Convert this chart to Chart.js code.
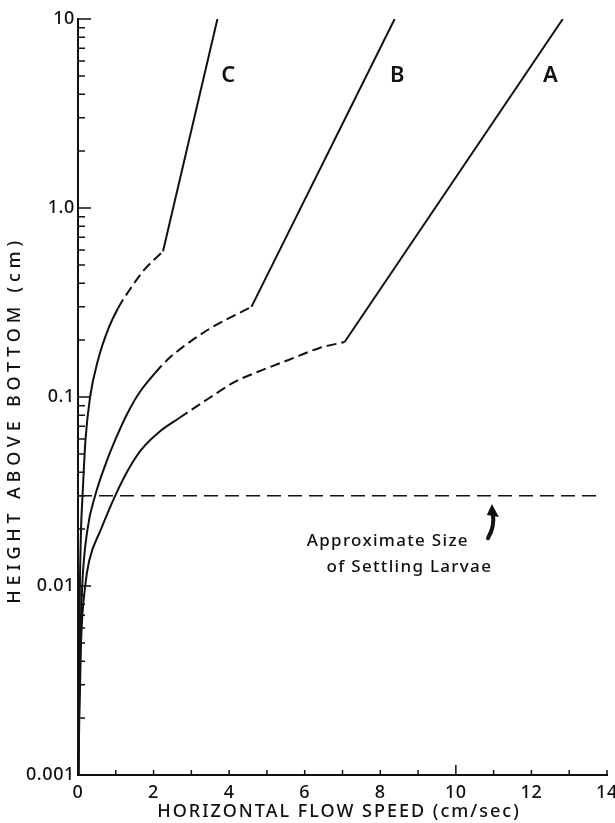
<!DOCTYPE html>
<html>
<head>
<meta charset="utf-8">
<script src="https://cdn.jsdelivr.net/npm/chart.js@4.4.1/dist/chart.umd.min.js"></script>
<style>
  body { margin: 0; background: #fff; }
  canvas { display: block; }
</style>
</head>
<body>
<canvas id="flowChart" width="615" height="823"></canvas>
<script>
// velocity profiles near the bottom: lower curved part (solid, then dashed) and upper log-linear part
var speedA = [0.013, 0.034, 0.08, 0.19, 0.3, 0.61, 0.98, 1.326, 1.671, 2.149, 2.679, 3.475, 4.138, 4.748, 5.57, 6.393, 7.056];
var heightA = [0.001, 0.002, 0.005, 0.01, 0.0137, 0.02, 0.0299, 0.0411, 0.0525, 0.0653, 0.0774, 0.0988, 0.120, 0.1356, 0.157, 0.1817, 0.1954];
var dashFromA = 10;
var upperSpeedA = [7.056, 12.83];
var upperHeightA = [0.1954, 10];

var speedB = [0.013, 0.027, 0.061, 0.111, 0.252, 0.451, 0.743, 1.008, 1.30, 1.618, 2.04, 2.36, 2.84, 3.55, 4.43, 4.59];
var heightB = [0.001, 0.002, 0.005, 0.01, 0.02, 0.0299, 0.0448, 0.0607, 0.0813, 0.105, 0.134, 0.157, 0.188, 0.234, 0.289, 0.30];
var dashFromB = 10;
var upperSpeedB = [4.59, 8.38];
var upperHeightB = [0.30, 10];

var speedC = [0.01, 0.02, 0.035, 0.05, 0.08, 0.12, 0.2, 0.32, 0.53, 0.82, 1.06, 1.35, 1.75, 2.25];
var heightC = [0.001, 0.002, 0.005, 0.01, 0.02, 0.03, 0.06, 0.1, 0.157, 0.234, 0.295, 0.365, 0.47, 0.59];
var dashFromC = 10;
var upperSpeedC = [2.25, 3.69];
var upperHeightC = [0.59, 10];

// larvae size line
var larvaeSpeed = [0, 13.8];
var larvaeHeight = [0.03, 0.03];

// curve letters
var curveNames = ["A", "B", "C"];
var nameSpeeds = [12.5, 8.45, 3.98];
var nameHeights = [5.0, 5.0, 5.0];

// note text and arrow
var noteLines = ["Approximate Size", "of Settling Larvae"];
var noteSpeeds = [8.2, 8.77];
var noteHeights = [0.0173, 0.0126];
var arrowSpeeds = [10.85, 10.98];
var arrowHeights = [0.0179, 0.0265];

// axis ticks
var xTickValues = [0, 2, 4, 6, 8, 10, 12, 14];
var yTickValues = [0.001, 0.01, 0.1, 1, 10];
var yTickLabels = ["0.001", "0.01", "0.1", "1.0", "10"];

var ink = "#111";
var font = "'Noto Sans', 'DejaVu Sans', sans-serif";

function toPoints(xs, ys) {
  var pts = [];
  for (var i = 0; i < xs.length; i++) {
    pts.push({ x: xs[i], y: ys[i] });
  }
  return pts;
}

function lowerCurve(xs, ys, dashFrom) {
  return {
    data: toPoints(xs, ys),
    borderColor: ink,
    borderWidth: 2,
    cubicInterpolationMode: "monotone",
    segment: {
      borderDash: function (ctx) {
        return ctx.p0DataIndex >= dashFrom ? [10, 5] : undefined;
      }
    }
  };
}

function upperCurve(xs, ys) {
  return { data: toPoints(xs, ys), borderColor: ink, borderWidth: 2, tension: 0 };
}

// tick marks, letters, note, arrow and axis titles
var decorPlugin = {
  id: "decor",
  beforeDraw: function (chart) {
    chart.ctx.letterSpacing = "0.6px";
  },
  beforeDatasetsDraw: function (chart) {
    chart.ctx.letterSpacing = "0px";
  },
  afterDraw: function (chart) {
    var ctx = chart.ctx;
    var xs = chart.scales.x;
    var ys = chart.scales.y;
    var area = chart.chartArea;
    ctx.save();
    ctx.strokeStyle = ink;
    ctx.fillStyle = ink;
    ctx.lineWidth = 1.5;

    // y ticks point into the plot
    ctx.beginPath();
    for (var d = 0; d < yTickValues.length; d++) {
      var major = ys.getPixelForValue(yTickValues[d]);
      ctx.moveTo(area.left, major);
      ctx.lineTo(area.left + 13, major);
      if (d < yTickValues.length - 1) {
        for (var m = 2; m <= 9; m++) {
          var py = ys.getPixelForValue(yTickValues[d] * m);
          ctx.moveTo(area.left, py);
          ctx.lineTo(area.left + 7, py);
        }
      }
    }
    // x ticks every unit, pointing up
    for (var v = 0; v <= 14; v++) {
      var px = xs.getPixelForValue(v);
      ctx.moveTo(px, area.bottom);
      ctx.lineTo(px, area.bottom - (v === 10 ? 10 : 5));
    }
    ctx.stroke();

    // curve letters
    ctx.font = "600 22px " + font;
    ctx.textAlign = "center";
    ctx.textBaseline = "middle";
    for (var i = 0; i < curveNames.length; i++) {
      ctx.fillText(curveNames[i], xs.getPixelForValue(nameSpeeds[i]), ys.getPixelForValue(nameHeights[i]));
    }

    // note
    ctx.font = "500 17px " + font;
    ctx.letterSpacing = "1.3px";
    for (var j = 0; j < noteLines.length; j++) {
      ctx.fillText(noteLines[j], xs.getPixelForValue(noteSpeeds[j]), ys.getPixelForValue(noteHeights[j]));
    }
    ctx.letterSpacing = "0px";

    // curved arrow pointing at the larvae line
    var tx = xs.getPixelForValue(arrowSpeeds[0]);
    var ty = ys.getPixelForValue(arrowHeights[0]);
    var hx = xs.getPixelForValue(arrowSpeeds[1]);
    var hy = ys.getPixelForValue(arrowHeights[1]);
    ctx.lineWidth = 4;
    ctx.lineCap = "round";
    ctx.beginPath();
    ctx.moveTo(tx, ty);
    ctx.quadraticCurveTo(hx + 2, ty - 12, hx, hy + 8);
    ctx.stroke();
    ctx.beginPath();
    ctx.moveTo(hx - 1, hy - 2);
    ctx.lineTo(hx + 6, hy + 11);
    ctx.lineTo(hx - 6, hy + 9);
    ctx.closePath();
    ctx.fill();

    // axis titles
    ctx.font = "500 18px " + font;
    ctx.letterSpacing = "2px";
    ctx.fillText("HORIZONTAL FLOW SPEED (cm/sec)", 339, 812);
    ctx.translate(15, 420);
    ctx.rotate(-Math.PI / 2);
    ctx.letterSpacing = "4.8px";
    ctx.fillText("HEIGHT ABOVE BOTTOM (cm)", 0, 0);
    ctx.restore();
  }
};

var datasets = [
  lowerCurve(speedA, heightA, dashFromA),
  upperCurve(upperSpeedA, upperHeightA),
  lowerCurve(speedB, heightB, dashFromB),
  upperCurve(upperSpeedB, upperHeightB),
  lowerCurve(speedC, heightC, dashFromC),
  upperCurve(upperSpeedC, upperHeightC),
  {
    data: toPoints(larvaeSpeed, larvaeHeight),
    borderColor: ink,
    borderWidth: 1.5,
    borderDash: [14, 7]
  }
];

var ctx0 = document.getElementById("flowChart");
var flowChart = new Chart(ctx0, {
  type: "scatter",
  data: { datasets: datasets },
  options: {
    responsive: false,
    animation: false,
    showLine: true,
    elements: { point: { radius: 0, hoverRadius: 0 } },
    layout: { padding: { top: 19, right: 8, left: 0, bottom: 0 } },
    plugins: { legend: { display: false }, tooltip: { enabled: false } },
    scales: {
      x: {
        type: "linear",
        min: 0,
        max: 14,
        grid: { display: false, drawTicks: false },
        border: { display: true, color: ink, width: 2 },
        afterBuildTicks: function (scale) {
          scale.ticks = xTickValues.map(function (v) { return { value: v }; });
        },
        afterFit: function (scale) {
          scale.height = 48;
          scale.paddingLeft = 0;
          scale.paddingRight = 0;
        },
        ticks: {
          autoSkip: false,
          maxRotation: 0,
          padding: 7,
          color: ink,
          font: { family: font, size: 18, weight: "500" }
        }
      },
      y: {
        type: "logarithmic",
        min: 0.001,
        max: 10,
        grid: { display: false, drawTicks: false },
        border: { display: true, color: ink, width: 2 },
        afterBuildTicks: function (scale) {
          scale.ticks = yTickValues.map(function (v) { return { value: v }; });
        },
        afterFit: function (scale) {
          scale.width = 78;
          scale.paddingTop = 0;
          scale.paddingBottom = 0;
        },
        ticks: {
          autoSkip: false,
          padding: 3,
          color: ink,
          font: { family: font, size: 18, weight: "500" },
          callback: function (value, index) { return yTickLabels[index]; }
        }
      }
    }
  },
  plugins: [decorPlugin]
});
</script>
</body>
</html>
